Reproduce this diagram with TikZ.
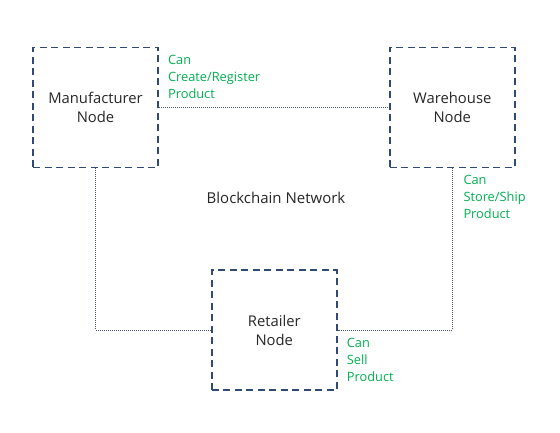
\documentclass[tikz,border=0pt]{standalone}
\usepackage{fontspec}
\setmainfont{Open Sans}
\usepackage{xcolor}
\usetikzlibrary{positioning}

\definecolor{nodeblue}{HTML}{2F4A75}
\definecolor{linkgrey}{HTML}{44546A}
\definecolor{rolegreen}{HTML}{00B050}

\begin{document}
\begin{tikzpicture}[
  peer/.style={draw=nodeblue, line width=1.8pt, dash pattern=on 7pt off 4.5pt,
    align=center, minimum width=125pt, minimum height=120pt, inner sep=0pt,
    font=\fontsize{14.8}{19}\selectfont, text=black!85},
  link/.style={draw=linkgrey, line width=0.6pt, dash pattern=on 1pt off 1pt},
  role/.style={align=left, inner sep=0pt, text=rolegreen,
    font=\fontsize{12.8}{17}\selectfont}
]
  \useasboundingbox (0,0) rectangle (560pt,-433pt);
  \node[peer] (manu) at (95.5pt,-107.5pt) {Manufacturer\\Node};
  \node[peer, right=230pt of manu] (ware) {Warehouse\\Node};
  \node[peer, below right=101pt and 52pt of manu.south east, anchor=north west] (ret) {Retailer\\Node};
  \node[font=\fontsize{15}{18}\selectfont, text=black!85] (net) at (276pt,-198pt) {Blockchain Network};
  \draw[link] (manu) -- (ware);
  \draw[link] (manu.south) |- (ret.west);
  \draw[link] (ware.south) |- (ret.east);
  \node[role, below right=8pt and 9pt of manu.north east, anchor=north west] (canmake) {Can\\Create/Register\\Product};
  \node[role, below right=7pt and 11pt of ware.south, anchor=north west] (canstore) {Can\\Store/Ship\\Product};
  \node[role, below right=8pt and 9pt of ret.east, anchor=north west] (cansell) {Can\\Sell\\Product};
\end{tikzpicture}
\end{document}
